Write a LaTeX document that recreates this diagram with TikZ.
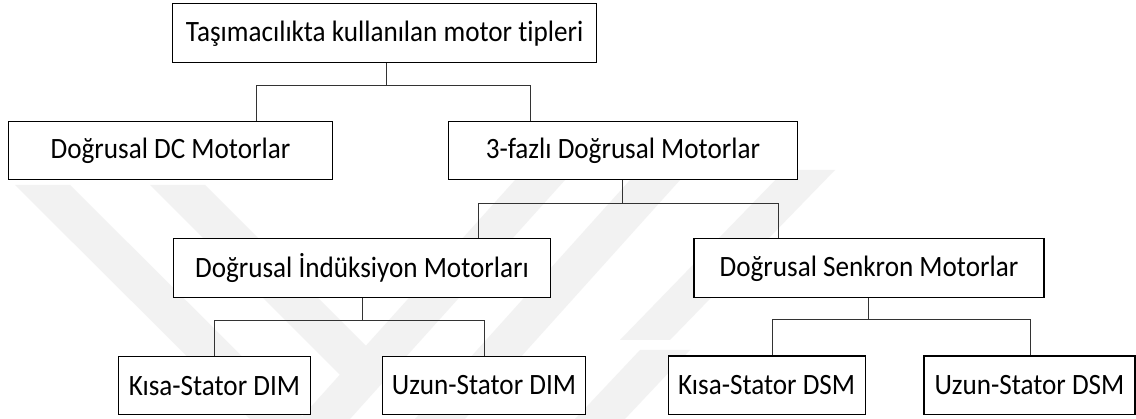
\documentclass[tikz,border=0pt]{standalone}
\usepackage{fontspec}
\setmainfont{Carlito}[FakeStretch=0.92, Ligatures=NoCommon]
\begin{document}
\begin{tikzpicture}[x=1pt,y=-1pt,
  box/.style={draw=black, line width=1.1pt, fill=white, inner sep=0pt,
    font=\fontsize{29.5}{32}\selectfont, anchor=center},
  link/.style={draw=black!80, line width=1pt},
  band/.style={fill=black!5, draw=none}]
\useasboundingbox (0,0) rectangle (1136,419);
\fill[white] (0,0) rectangle (1136,419);

% faint background bands
\fill[band] (15,185) -- (70,185) -- (305,419) -- (250,419) -- cycle;
\fill[band] (150,185) -- (205,185) -- (400,380) -- (345,380) -- cycle;
\fill[band] (515,180) -- (565,180) -- (350,419) -- (300,419) -- cycle;
\fill[band] (630,180) -- (680,180) -- (465,419) -- (415,419) -- cycle;
\fill[band] (785,170) -- (835,170) -- (670,340) -- (620,340) -- cycle;
\fill[band] (640,350) -- (690,350) -- (625,419) -- (575,419) -- cycle;

% boxes
\node[box, minimum width=424pt, minimum height=58.7pt] (top) at (384.7,33.3) {Taşımacılıkta kullanılan motor tipleri};
\node[box, minimum width=324.4pt, minimum height=58.3pt] (dc) at (170.5,150.8) {Doğrusal DC Motorlar};
\node[box, minimum width=349.4pt, minimum height=58.3pt] (tf) at (623,150.8) {3-fazlı Doğrusal Motorlar};
\node[box, minimum width=377.4pt, minimum height=58.7pt] (dim) at (362,268.3) {Doğrusal İndüksiyon Motorları};
\node[box, minimum width=350pt, minimum height=58.7pt] (dsm) at (869,268.3) {Doğrusal Senkron Motorlar};
\node[box, minimum width=192.4pt, minimum height=58.3pt] (ksdim) at (214.5,385.8) {Kısa-Stator DIM};
\node[box, minimum width=203.4pt, minimum height=57.6pt] (usdim) at (484,385.5) {Uzun-Stator DIM};
\node[box, minimum width=196.7pt, minimum height=58.3pt] (ksdsm) at (766.7,385.2) {Kısa-Stator DSM};
\node[box, minimum width=211pt, minimum height=58.3pt] (usdsm) at (1029.5,385.2) {Uzun-Stator DSM};

% junction points
\coordinate (j1) at (386,86);
\coordinate (j1a) at (256.7,86);
\coordinate (j1b) at (530.7,86);
\coordinate (j2) at (622.7,203.3);
\coordinate (j2a) at (478.3,203.3);
\coordinate (j2b) at (778.3,203.3);
\coordinate (j3) at (362,320.7);
\coordinate (j3a) at (214.5,320.7);
\coordinate (j3b) at (484,320.7);
\coordinate (j4) at (868.7,320);
\coordinate (j4a) at (772.3,320);
\coordinate (j4b) at (1030,320);

% connectors
\draw[link] (top.south -| j1) -- (j1);
\draw[link] (j1a |- dc.north) -- (j1a) -- (j1b) -- (j1b |- tf.north);
\draw[link] (tf.south -| j2) -- (j2);
\draw[link] (j2a |- dim.north) -- (j2a) -- (j2b) -- (j2b |- dsm.north);
\draw[link] (dim.south -| j3) -- (j3);
\draw[link] (j3a |- ksdim.north) -- (j3a) -- (j3b) -- (j3b |- usdim.north);
\draw[link] (dsm.south -| j4) -- (j4);
\draw[link] (j4a |- ksdsm.north) -- (j4a) -- (j4b) -- (j4b |- usdsm.north);
\end{tikzpicture}
\end{document}
